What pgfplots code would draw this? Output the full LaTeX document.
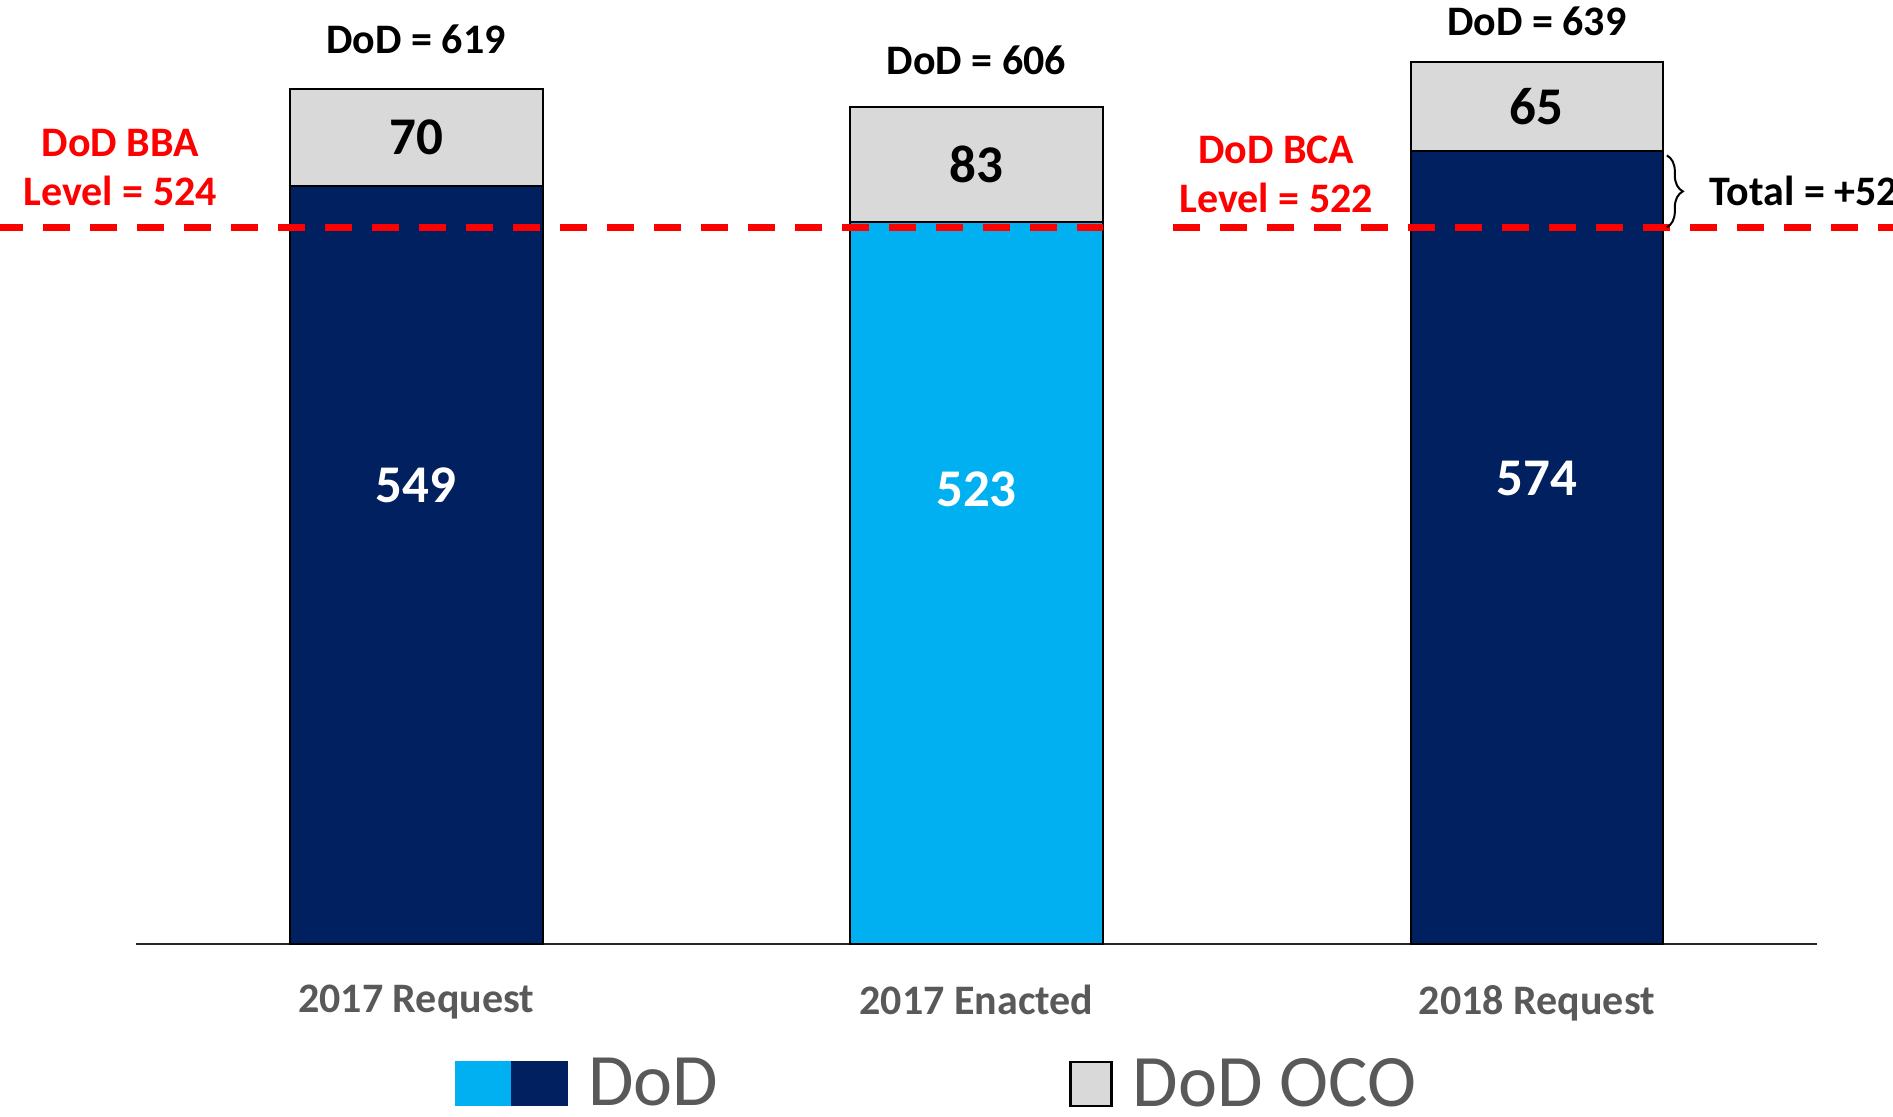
\documentclass[border=0pt]{standalone}
\usepackage{fontspec}
\setmainfont{Carlito}
\usepackage{pgfplots}
\pgfplotsset{compat=1.18}
\usetikzlibrary{decorations.pathreplacing}
\definecolor{DoDNavy}{HTML}{002060}
\definecolor{DoDSky}{HTML}{00B0F0}
\definecolor{OCOGrey}{HTML}{D9D9D9}
\definecolor{LabelGrey}{HTML}{595959}
\definecolor{LevelRed}{HTML}{FF0000}

\begin{document}
\begin{tikzpicture}
\begin{axis}[
    name=ax,
    scale only axis,
    width=840.5pt, height=472pt,
    xmin=-0.5, xmax=2.5, ymin=0, ymax=683.6,
    axis x line*=bottom, axis y line=none,
    x axis line style={line width=1.2pt, black!85, -},
    xtick={0,1,2},
    xticklabels={2017 Request, 2017 Enacted, 2018 Request},
    major tick length=0pt,
    xticklabel style={font=\fontsize{21}{21}\selectfont\bfseries, text=LabelGrey, yshift=-17pt},
    clip=false,
    legend style={at={(0.1898,-0.148)}, anchor=west, draw=none, fill=none,
        legend columns=2, inner sep=0pt,
        font=\fontsize{37}{37}\selectfont, text=LabelGrey,
        /tikz/every odd column/.append style={column sep=8pt},
        /tikz/every even column/.append style={column sep=173.5pt}},
]
% totals (grey OCO part shows above the base)
\addplot[ybar, bar width=0.451, bar shift=0pt, fill=OCOGrey, draw=black, line width=1pt, forget plot]
    coordinates {(0,619) (1,606) (2,639)};
% base DoD
\addplot[ybar, bar width=0.451, bar shift=0pt, fill=DoDNavy, draw=black, line width=1pt, forget plot]
    coordinates {(0,549) (2,574)};
\addplot[ybar, bar width=0.451, bar shift=0pt, fill=DoDSky, draw=black, line width=1pt, forget plot]
    coordinates {(1,523)};

% BBA / BCA levels
\addplot[LevelRed, line width=3.3pt, dash pattern=on 13.5pt off 10pt, forget plot]
    coordinates {(-0.75,519) (1.225,519)};
\addplot[LevelRed, line width=3.3pt, dash pattern=on 13.5pt off 10pt, forget plot]
    coordinates {(1.351,519) (2.7,519)};

\addlegendimage{legend image code/.code={
    \fill[DoDSky] (0pt,-11pt) rectangle (28pt,11pt);
    \fill[DoDNavy] (28pt,-11pt) rectangle (56pt,11pt);}}
\addlegendentry{DoD}
\addlegendimage{legend image code/.code={
    \draw[fill=OCOGrey, line width=1.2pt] (0pt,-11pt) rectangle (20.5pt,11pt);}}
\addlegendentry{DoD OCO}

% value labels
\begin{scope}[font=\fontsize{21}{21}\selectfont\bfseries]
\node[anchor=base] at (axis cs:0,645) {DoD = 619};
\node[anchor=base] at (axis cs:1,630) {DoD = 606};
\node[anchor=base] at (axis cs:2,658) {DoD = 639};
\node[align=center, text=LevelRed, font=\fontsize{21}{24.5}\selectfont\bfseries] at (axis cs:-0.528,562) {DoD BBA\\Level = 524};
\node[align=center, text=LevelRed, font=\fontsize{21}{24.5}\selectfont\bfseries] at (axis cs:1.535,557) {DoD BCA\\Level = 522};
\node[anchor=west] at (axis cs:2.296,545) {Total = +52};
\end{scope}
\begin{scope}[font=\fontsize{26.5}{26.5}\selectfont\bfseries]
\node at (axis cs:0,584) {70};
\node at (axis cs:1,564.5) {83};
\node at (axis cs:2,606.5) {65};
\node[text=white] at (axis cs:0,332) {549};
\node[text=white] at (axis cs:1,329) {523};
\node[text=white] at (axis cs:2,337) {574};
\end{scope}
\draw[decorate, decoration={brace, amplitude=8pt}, line width=1pt]
    (axis cs:2.232,571) -- (axis cs:2.232,519);
\end{axis}
\pgfresetboundingbox
\path[use as bounding box] ([shift={(-68pt,-86.5pt)}]ax.south west) rectangle ([shift={(38pt,0pt)}]ax.north east);
\end{tikzpicture}
\end{document}
